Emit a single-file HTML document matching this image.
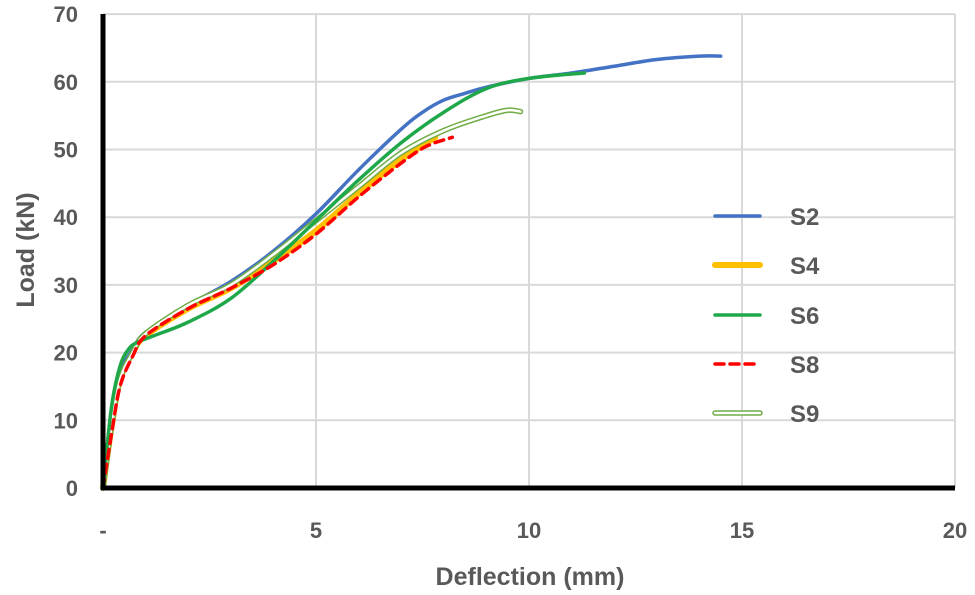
<!DOCTYPE html>
<html><head><meta charset="utf-8"><style>
body{margin:0;background:#fff}
svg{display:block;font-family:"Liberation Sans",sans-serif}
</style></head><body>
<svg id="chart" width="975" height="595">
<g id="grid"></g>
<g id="series"></g>
<g id="axes"></g>
<g id="legend"></g>
<text x="530" y="585" text-anchor="middle" font-size="25" font-weight="bold" fill="#595959">Deflection (mm)</text>
<text transform="translate(34,250) rotate(-90)" text-anchor="middle" font-size="25" font-weight="bold" fill="#595959">Load (kN)</text>
</svg>
<script>
const xTicks=[0,5,10,15,20];
const xTickLabels=["-","5","10","15","20"];
const yTicks=[0,10,20,30,40,50,60,70];
const seriesNames=["S2","S4","S6","S8","S9"];
const s2x=[0,0.2,0.4,0.7,1,2,3,4,5,6,7,7.5,8,8.5,9,10,11,12,13,14,14.5];
const s2y=[0,10,17,20.5,23,27,30.5,35,40.5,47,53,55.5,57.3,58.3,59.2,60.5,61.3,62.3,63.3,63.8,63.8];
const s4x=[0,0.2,0.4,0.7,1,2,3,4,5,6,7,7.8];
const s4y=[0,9,16,20,22.5,26.5,29.5,33.5,38,43.5,48.5,51.8];
const s6x=[0,0.2,0.4,0.6,0.8,1.2,2,3,4,5,6,7,8,9,10,11.3];
const s6y=[0,12,18,20.5,21.5,22.5,24.5,28,33.5,39.5,45.5,51,55.5,59,60.5,61.3];
const s8x=[0,0.2,0.4,0.7,1,2,3,4,5,6,7,7.6,8.2];
const s8y=[0,8,15,19.5,22.5,26.5,29.5,33,37.5,43,48,50.5,51.8];
const s9x=[0,0.2,0.4,0.7,1,2,3,4,5,6,7,8,9,9.5,9.8];
const s9y=[0,9,16,20,22.8,27,30,34.5,39.5,44.5,49.5,52.8,55,55.8,55.6];
const X=v=>103+v*42.6, Y=v=>488-v*6.77;
const NS="http://www.w3.org/2000/svg";
function mk(t,a,p){const e=document.createElementNS(NS,t);for(const k in a)e.setAttribute(k,a[k]);p.appendChild(e);return e;}
const grid=document.getElementById('grid'),axes=document.getElementById('axes'),ser=document.getElementById('series'),leg=document.getElementById('legend');
yTicks.forEach(v=>{
 const l=mk('line',{x1:103,x2:955,y1:Y(v),y2:Y(v),stroke:'#d9d9d9','stroke-width':2},grid);
 
 
 const t=mk('text',{x:78,y:Y(v)+8,'text-anchor':'end','font-size':22,'font-weight':'bold',fill:'#595959'},axes);
 t.textContent=v;
 
 
});
xTicks.forEach((v,i)=>{
 if(v>0){const l=mk('line',{x1:X(v),x2:X(v),y1:14,y2:488,stroke:'#d9d9d9','stroke-width':2},grid);
 
 }
 const t=mk('text',{x:X(v),y:538,'text-anchor':'middle','font-size':22,'font-weight':'bold',fill:'#595959'},axes);
 t.textContent=xTickLabels[i];
 
 
});
const ya=mk('line',{x1:103,x2:103,y1:14,y2:490,stroke:'#000','stroke-width':5},axes);


const xa=mk('line',{x1:101,x2:955,y1:488,y2:488,stroke:'#000','stroke-width':5},axes);


function path(xs,ys){
 const p=xs.map((x,i)=>[X(x),Y(ys[i])]);
 let d='M'+p[0][0]+','+p[0][1];
 for(let i=0;i<p.length-1;i++){
  const p0=p[i-1]||p[i],p1=p[i],p2=p[i+1],p3=p[i+2]||p2;
  d+=' C'+(p1[0]+(p2[0]-p0[0])/6)+','+(p1[1]+(p2[1]-p0[1])/6)+' '+(p2[0]-(p3[0]-p1[0])/6)+','+(p2[1]-(p3[1]-p1[1])/6)+' '+p2[0]+','+p2[1];
 }
 return d;
}
const styles=[
 {xs:s2x,ys:s2y,layers:[{stroke:'#4472c4',w:3.5}]},
 {xs:s4x,ys:s4y,layers:[{stroke:'#ffc000',w:6}]},
 {xs:s6x,ys:s6y,layers:[{stroke:'#1fa84a',w:3.5}]},
 {xs:s8x,ys:s8y,layers:[{stroke:'#ff0000',w:3.5,dash:'9,6'}]},
 {xs:s9x,ys:s9y,layers:[{stroke:'#70ad47',w:5.5},{stroke:'#fff',w:2.5}]}
];
const order=[1,0,4,2,3];
order.forEach(i=>{
 const s=styles[i];
 s.layers.forEach(L=>{
  const e=mk('path',{d:path(s.xs,s.ys),fill:'none',stroke:L.stroke,'stroke-width':L.w,'stroke-linecap':'round','stroke-linejoin':'round'},ser);
  if(L.dash)e.setAttribute('stroke-dasharray',L.dash);
  
  
 });
});
const ly=[216,265,315,364,413];
styles.forEach((s,i)=>{
 s.layers.forEach(L=>{
  const e=mk('line',{x1:715,x2:760,y1:ly[i],y2:ly[i],stroke:L.stroke,'stroke-width':L.w,'stroke-linecap':'round'},leg);
  if(L.dash)e.setAttribute('stroke-dasharray',L.dash);
  
  
 });
 const t=mk('text',{x:790,y:ly[i]+9,'font-size':24,'font-weight':'bold',fill:'#595959'},leg);
 t.textContent=seriesNames[i];
 
 
});
</script>
</body></html>
